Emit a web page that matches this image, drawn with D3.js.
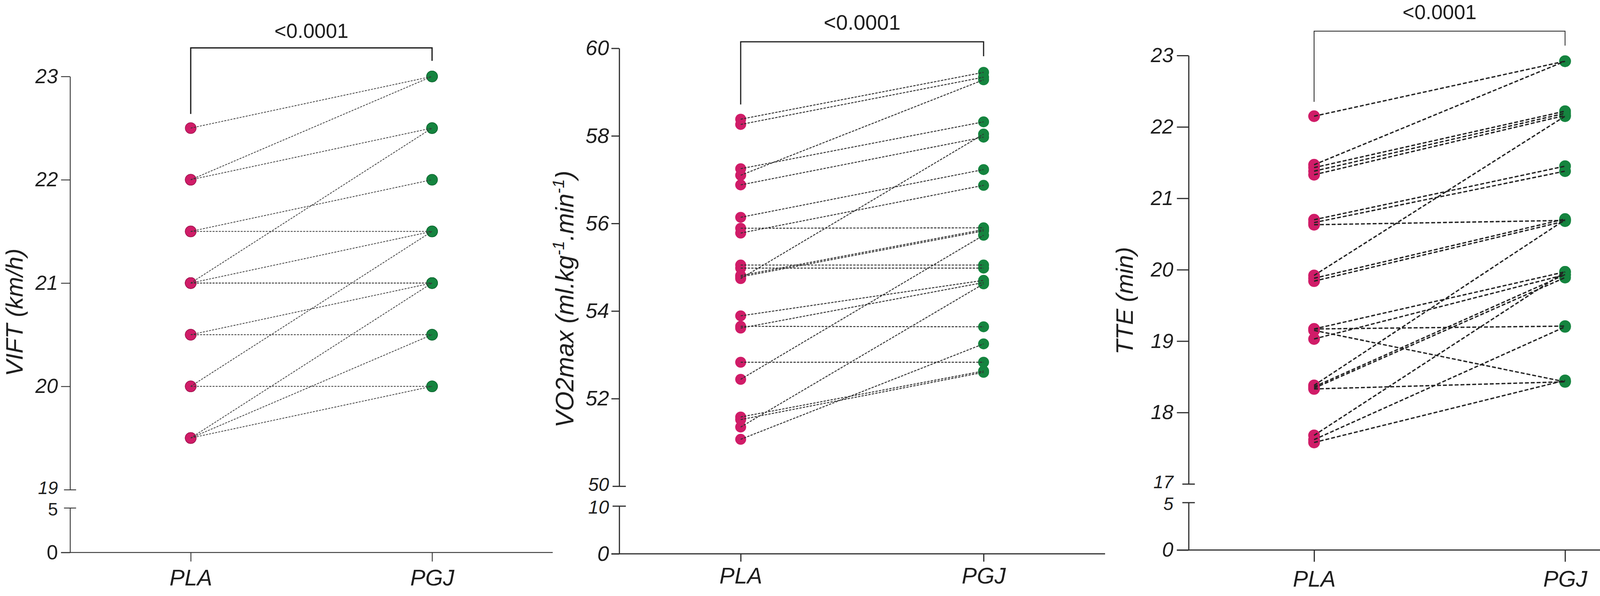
<!DOCTYPE html>
<html>
<head>
<meta charset="utf-8">
<script src="https://cdn.jsdelivr.net/npm/d3@7"></script>
<style>
html, body { margin: 0; padding: 0; background: #ffffff; }
svg { display: block; }
text { font-family: "Liberation Sans", Arial, Helvetica, sans-serif; fill: #1e1e1e; }
</style>
</head>
<body>
<svg id="chart" width="4328" height="1526"></svg>
<script>
// ---------------- DATA ----------------
const categories = ["PLA", "PGJ"];
const pValueLabel = "<0.0001";

// Panel 1: VIFT (km/h) — paired values (PLA[i] -> PGJ[i])
const viftPLA = [22.5, 22, 22, 21.5, 21.5, 21, 21, 21, 21, 20.5, 20.5, 20, 20, 19.5, 19.5, 19.5];
const viftPGJ = [23, 23, 22.5, 22, 21.5, 22.5, 21.5, 21, 21, 21, 20.5, 21.5, 20, 21, 20.5, 20];
const viftUpperTicks = [19, 20, 21, 22, 23];
const viftLowerTicks = [0, 5];

// Panel 2: VO2max (ml.kg-1.min-1)
const vo2PLA = [58.38, 58.26, 57.25, 57.10, 56.88, 56.14, 55.89, 55.78, 55.05, 54.98, 54.81, 54.78, 54.74, 53.89, 53.65, 53.61, 52.83, 52.44, 51.58, 51.52, 51.35, 51.07];
const vo2PGJ = [59.45, 59.34, 58.32, 59.28, 57.97, 57.23, 55.90, 56.87, 55.05, 54.98, 55.86, 55.83, 58.04, 54.70, 53.64, 54.65, 52.83, 55.73, 52.63, 52.60, 54.62, 53.25];
const vo2UpperTicks = [50, 52, 54, 56, 58, 60];
const vo2LowerTicks = [0, 10];

// Panel 3: TTE (min)
const ttePLA = [22.15, 21.47, 21.43, 21.38, 21.33, 20.70, 20.66, 20.63, 19.92, 19.88, 19.84, 19.17, 19.17, 19.15, 19.03, 18.38, 18.36, 18.34, 18.33, 17.68, 17.62, 17.58];
const ttePGJ = [22.92, 22.92, 22.22, 22.19, 22.16, 21.45, 21.38, 20.69, 22.15, 20.71, 20.68, 19.97, 19.21, 18.43, 19.93, 20.70, 19.93, 19.89, 18.43, 19.97, 19.20, 18.45];
const tteUpperTicks = [17, 18, 19, 20, 21, 22, 23];
const tteLowerTicks = [0, 5];

// ---------------- LAYOUT / STYLE ----------------
const colorPLA = "#d01c68";
const colorPGJ = "#15843f";
const axisColor = "#2e2e2e";

const panels = [
  {
    title: [{ t: "VIFT (km/h)" }],
    pla: viftPLA, pgj: viftPGJ, upperTicks: viftUpperTicks, lowerTicks: viftLowerTicks,
    L: { axisX: 179.3, pointEnd: 1415, xEnd: 1415, upper: [1253.7, 195.7], lower: [1414.7, 1300.3],
         tick: 23, pad: 8, breakHalf: 15.5, catPad: 20,
         bTop: 122.7, bLeft: 291.7, bRight: 155.7, pY: 97,
         titleX: 58, titleY: 800, titleSize: 62, tickSize: 52, breakSize: 46, pSize: 52, catSize: 58,
         lowerItalic: false },
    S: { axisW: 2.2, bracketW: 3.2, dotR: 14, dotStroke: true, lineW: 1.9, dash: "5,3", lineColor: "#3a3a3a" }
  },
  {
    title: [{ t: "VO2max (ml.kg" }, { t: "-1", sup: true }, { t: ".min" }, { t: "-1", sup: true }, { t: ")" }],
    pla: vo2PLA, pgj: vo2PGJ, upperTicks: vo2UpperTicks, lowerTicks: vo2LowerTicks,
    L: { axisX: 1585.2, pointEnd: 2828.9, xEnd: 2829, upper: [1244.8, 123.6], lower: [1418, 1295.4],
         tick: 20, pad: 6, breakHalf: 17, catPad: 15,
         bTop: 107, bLeft: 267.6, bRight: 144, pY: 76,
         titleX: 1468, titleY: 766, titleSize: 64, tickSize: 54, breakSize: 48, pSize: 54, catSize: 58,
         lowerItalic: true },
    S: { axisW: 3, bracketW: 3, dotR: 14, dotStroke: false, lineW: 2.4, dash: "6,3", lineColor: "#333333" }
  },
  {
    title: [{ t: "TTE (min)" }],
    pla: ttePLA, pgj: ttePGJ, upperTicks: tteUpperTicks, lowerTicks: tteLowerTicks,
    L: { axisX: 3042.8, pointEnd: 4327.8, xEnd: 4242, upper: [1239, 142.1], lower: [1408.3, 1286.6],
         tick: 30, pad: 9, breakHalf: 16, catPad: 23,
         bTop: 79.8, bLeft: 260.8, bRight: 116.8, pY: 49,
         titleX: 2900, titleY: 770, titleSize: 62, tickSize: 52, breakSize: 46, pSize: 52, catSize: 58,
         lowerItalic: true },
    S: { axisW: 3, bracketW: 2, dotR: 15, dotStroke: false, lineW: 3.4, dash: "10,5", lineColor: "#222222" }
  }
];

const svg = d3.select("#chart");
svg.append("rect").attr("width", 4328).attr("height", 1526).attr("fill", "#ffffff");

function styleAxis(sel, S, fontSize, italic) {
  sel.attr("font-size", null).attr("font-family", null);
  sel.select(".domain").attr("stroke", axisColor).attr("stroke-width", S.axisW);
  sel.selectAll(".tick line").attr("stroke", axisColor).attr("stroke-width", S.axisW);
  sel.selectAll(".tick text")
    .attr("fill", "#1e1e1e")
    .style("font-size", fontSize + "px")
    .style("font-style", italic ? "italic" : "normal");
}

panels.forEach(p => {
  const L = p.L, S = p.S;
  const g = svg.append("g");

  const x = d3.scalePoint().domain(categories).range([L.axisX, L.pointEnd]).padding(0.5);
  const yU = d3.scaleLinear().domain(d3.extent(p.upperTicks)).range(L.upper);
  const yL = d3.scaleLinear().domain(d3.extent(p.lowerTicks)).range(L.lower);

  // upper y-axis segment
  const axU = g.append("g").attr("transform", `translate(${L.axisX},0)`)
    .call(d3.axisLeft(yU).tickValues(p.upperTicks).tickSize(L.tick).tickSizeOuter(0)
      .tickPadding(L.pad).tickFormat(d3.format("d")));
  styleAxis(axU, S, L.tickSize, true);
  const uMin = d3.min(p.upperTicks);
  const uBreak = axU.selectAll(".tick").filter(d => d === uMin);
  uBreak.select("line").attr("x1", L.breakHalf).attr("x2", -L.breakHalf);
  uBreak.select("text").attr("x", -(L.tick + L.pad)).attr("y", -4)
    .style("font-size", L.breakSize + "px");

  // lower y-axis segment
  const axL = g.append("g").attr("transform", `translate(${L.axisX},0)`)
    .call(d3.axisLeft(yL).tickValues(p.lowerTicks).tickSize(L.tick).tickSizeOuter(0)
      .tickPadding(L.pad).tickFormat(d3.format("d")));
  styleAxis(axL, S, L.tickSize, L.lowerItalic);
  const lMax = d3.max(p.lowerTicks);
  const lBreak = axL.selectAll(".tick").filter(d => d === lMax);
  lBreak.select("line").attr("x1", L.breakHalf).attr("x2", -L.breakHalf);
  lBreak.select("text").attr("x", -(L.tick + L.pad)).attr("y", 4)
    .style("font-size", L.breakSize + "px");

  // x-axis
  const axX = g.append("g").attr("transform", `translate(0,${L.lower[0]})`)
    .call(d3.axisBottom(x).tickSize(L.tick).tickSizeOuter(0).tickPadding(L.catPad));
  styleAxis(axX, S, L.catSize, true);
  axX.select(".domain").attr("d", `M${L.axisX - L.tick},0H${L.xEnd}`);

  // y title
  const title = g.append("text")
    .attr("transform", `translate(${L.titleX},${L.titleY}) rotate(-90)`)
    .attr("text-anchor", "middle")
    .style("font-size", L.titleSize + "px")
    .style("font-style", "italic");
  let shifted = false;
  p.title.forEach(part => {
    const ts = title.append("tspan").text(part.t);
    if (part.sup) {
      ts.style("font-size", Math.round(L.titleSize * 0.66) + "px").attr("dy", -L.titleSize * 0.38);
      shifted = true;
    } else if (shifted) {
      ts.attr("dy", L.titleSize * 0.38);
      shifted = false;
    }
  });

  // dots
  const pairs = p.pla.map((v, i) => ({ a: v, b: p.pgj[i] }));
  const dots = g.append("g");
  dots.selectAll("circle.pla").data(pairs).join("circle")
    .attr("class", "pla")
    .attr("cx", x(categories[0])).attr("cy", d => yU(d.a)).attr("r", S.dotR)
    .attr("fill", colorPLA)
    .attr("stroke", S.dotStroke ? "#a0164f" : "none").attr("stroke-width", 1.5);
  dots.selectAll("circle.pgj").data(pairs).join("circle")
    .attr("class", "pgj")
    .attr("cx", x(categories[1])).attr("cy", d => yU(d.b)).attr("r", S.dotR)
    .attr("fill", colorPGJ)
    .attr("stroke", S.dotStroke ? "#0e6630" : "none").attr("stroke-width", 1.5);

  // connecting lines (on top of dots)
  g.append("g").selectAll("line").data(pairs).join("line")
    .attr("x1", x(categories[0])).attr("y1", d => yU(d.a))
    .attr("x2", x(categories[1])).attr("y2", d => yU(d.b))
    .attr("stroke", S.lineColor).attr("stroke-width", S.lineW)
    .attr("stroke-dasharray", S.dash).attr("fill", "none");

  // significance bracket
  const xa = x(categories[0]), xb = x(categories[1]);
  g.append("path")
    .attr("d", `M${xa},${L.bLeft}V${L.bTop}H${xb}V${L.bRight}`)
    .attr("fill", "none").attr("stroke", "#1e1e1e").attr("stroke-width", S.bracketW);
  g.append("text")
    .attr("x", (xa + xb) / 2).attr("y", L.pY)
    .attr("text-anchor", "middle")
    .style("font-size", L.pSize + "px")
    .text(pValueLabel);
});
</script>
</body>
</html>
